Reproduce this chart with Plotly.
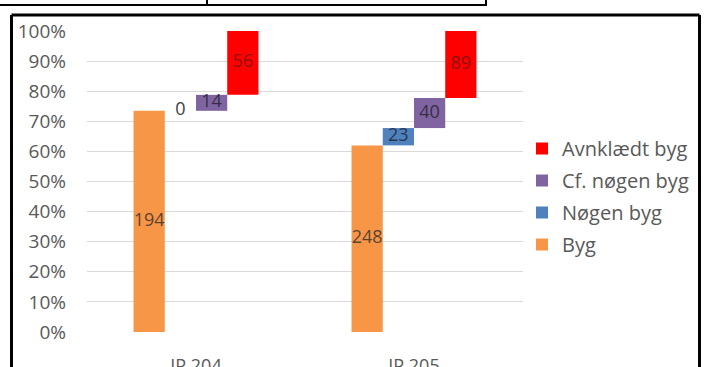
import plotly.graph_objects as go

# Category labels and sample counts per category
categories = ["IP 204", "IP 205"]
series_names = ["Byg", "Nøgen byg", "Cf. nøgen byg", "Avnklædt byg"]
byg = [194, 248]
noegen_byg = [0, 23]
cf_noegen_byg = [14, 40]
avnklaedt_byg = [56, 89]

series_values = [byg, noegen_byg, cf_noegen_byg, avnklaedt_byg]
series_colors = ["#F79646", "#4F81BD", "#8064A2", "#FF0000"]
label_colors = ["rgba(60,50,45,0.85)", "rgba(30,40,60,0.85)",
                "rgba(40,35,50,0.85)", "rgba(120,20,20,0.85)"]

FONT = "Open Sans"
W, H = 708, 367
ML, MR, MT, MB = 87, 185, 31, 35

totals = [sum(s[i] for s in series_values) for i in range(len(categories))]

n = len(series_names)
group_width = 0.573
bar_w = group_width / n

fig = go.Figure()

# Floating stacked columns: each series starts where the previous one ended
running = [0.0] * len(categories)
label_x, label_y, label_t, label_c = [], [], [], []
for k, (name, vals, col) in enumerate(zip(series_names, series_values, series_colors)):
    pct = [v / t * 100 for v, t in zip(vals, totals)]
    xs = [i + (k - (n - 1) / 2) * bar_w for i in range(len(categories))]
    fig.add_trace(go.Bar(
        x=xs, y=pct, base=list(running), width=bar_w,
        name=name, marker=dict(color=col, line=dict(width=0)),
        legendgroup=name, legendrank=n - k, hoverinfo="skip",
    ))
    for i in range(len(categories)):
        label_x.append(xs[i])
        label_y.append(running[i] + pct[i] / 2)
        label_t.append(str(vals[i]))
        label_c.append(label_colors[k] if vals[i] > 0 else "#404040")
    running = [r + p for r, p in zip(running, pct)]

fig.add_trace(go.Scatter(
    x=label_x, y=label_y, text=label_t, mode="text",
    textfont=dict(family=FONT, size=18, color=label_c),
    textposition="middle center", showlegend=False, hoverinfo="skip",
))

def px_x(p):
    return (p - ML) / (W - ML - MR)

def px_y(p):
    return (H - MB - p) / (H - MT - MB)

frame = dict(type="line", xref="paper", yref="paper", line=dict(color="black", width=3))
shapes = [
    # header table edge above the chart
    dict(frame, x0=px_x(-5), x1=px_x(487), y0=px_y(5), y1=px_y(5), line=dict(color="black", width=2)),
    dict(frame, x0=px_x(207), x1=px_x(207), y0=px_y(-5), y1=px_y(5), line=dict(color="black", width=2)),
    dict(frame, x0=px_x(486), x1=px_x(486), y0=px_y(-5), y1=px_y(6), line=dict(color="black", width=2)),
    # chart border
    dict(frame, x0=px_x(11.5), x1=px_x(699.5), y0=px_y(15), y1=px_y(15)),
    dict(frame, x0=px_x(11.5), x1=px_x(11.5), y0=px_y(15), y1=px_y(380)),
    dict(frame, x0=px_x(699.5), x1=px_x(699.5), y0=px_y(15), y1=px_y(380)),
]

fig.update_layout(
    width=W, height=H,
    margin=dict(l=ML, r=MR, t=MT, b=MB, pad=0, autoexpand=False),
    paper_bgcolor="white", plot_bgcolor="white",
    barmode="overlay",
    font=dict(family=FONT, size=18, color="#595959"),
    showlegend=True,
    legend=dict(
        traceorder="grouped", tracegroupgap=3,
        x=px_x(522), y=px_y(129), xanchor="left", yanchor="top",
        font=dict(family=FONT, size=20, color="#595959"),
        bgcolor="rgba(0,0,0,0)", itemsizing="constant",
    ),
    xaxis=dict(
        range=[-0.5, len(categories) - 0.5],
        tickvals=list(range(len(categories))), ticktext=categories,
        showgrid=False, zeroline=False, showline=False, ticks="",
        ticklabelstandoff=21, fixedrange=True, automargin=False,
    ),
    yaxis=dict(
        range=[0, 100], tickvals=list(range(0, 101, 10)),
        ticktext=[f"{v}%" for v in range(0, 101, 10)],
        showgrid=True, gridcolor="#D9D9D9", gridwidth=1,
        zeroline=False, showline=False, ticks="",
        ticklabelstandoff=20, fixedrange=True, automargin=False,
        tickfont=dict(size=19),
    ),
    shapes=shapes,
)

fig.write_html("out.html")
